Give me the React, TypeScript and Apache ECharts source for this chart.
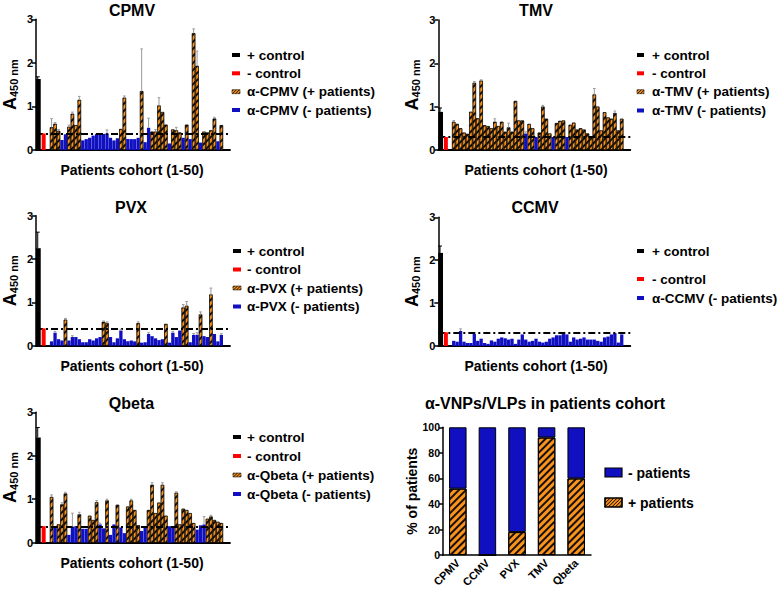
import React, { useEffect, useRef } from 'react';
import * as echarts from 'echarts';

const FONT = '"Liberation Sans", Arial, Helvetica, sans-serif';
const ORANGE = '#F7931E';
const BLUE = '#1010C0';
const RED = '#FF0000';
const BLACK = '#000000';

// ---------------- CPMV ----------------
const cpmvControls = [1.63, 0.38];
const cpmvControlErr = [1.68, null];
const cpmvValues = [0.52, 0.60, 0.44, 0.23, 0.36, 0.53, 0.83, 0.57, 1.15, 0.22, 0.25, 0.28, 0.33, 0.37, 0.37, 0.37, 0.38, 0.28, 0.22, 0.27, 0.48, 1.20, 0.25, 0.25, 0.25, 0.28, 1.35, 0.18, 0.51, 0.42, 0.42, 1.02, 0.87, 0.58, 0.15, 0.47, 0.45, 0.40, 0.28, 0.58, 0.25, 2.68, 1.93, 0.17, 0.42, 0.40, 0.45, 0.72, 0.20, 0.57];
const cpmvPositive = [1, 1, 1, 0, 0, 1, 1, 1, 1, 0, 0, 0, 0, 0, 0, 0, 0, 0, 0, 0, 1, 1, 0, 0, 0, 0, 1, 0, 0, 1, 1, 1, 1, 1, 0, 1, 1, 1, 0, 1, 0, 1, 1, 0, 1, 1, 1, 1, 0, 1];
const cpmvErrTop = [0.72, 0.63, 0.47, null, null, 0.57, 0.87, null, 1.23, null, null, null, null, null, null, null, 0.46, null, null, null, null, 1.24, null, null, null, null, 2.32, null, 0.73, null, 0.47, 1.20, null, null, null, null, 0.52, null, null, null, null, 2.78, 2.27, null, null, null, null, 0.75, null, null];
const cpmvCutoff = 0.37;

// ---------------- TMV ----------------
const tmvControls = [0.88, 0.30];
const tmvControlErr = [0.97, null];
const tmvValues = [0.65, 0.60, 0.50, 0.40, 0.37, 0.88, 1.55, 0.73, 1.60, 0.57, 0.55, 0.50, 0.65, 0.55, 0.65, 0.42, 0.52, 0.42, 1.13, 0.68, 0.68, 0.38, 0.60, 0.50, 0.30, 0.40, 1.00, 0.72, 0.38, 0.30, 0.62, 0.67, 0.68, 0.30, 0.58, 0.63, 0.47, 0.50, 0.47, 0.38, 0.30, 1.28, 1.00, 0.45, 0.87, 0.75, 0.72, 0.85, 0.45, 0.72];
const tmvPositive = [1, 1, 1, 1, 1, 1, 1, 1, 1, 1, 1, 1, 1, 1, 1, 1, 1, 1, 1, 1, 1, 0, 1, 1, 0, 1, 1, 1, 1, 0, 1, 1, 1, 0, 1, 1, 1, 1, 1, 1, 1, 1, 1, 1, 1, 1, 1, 1, 1, 1];
const tmvErrTop = [0.68, null, null, null, null, null, 1.58, null, 1.62, null, null, null, 0.72, null, null, null, 0.62, null, null, null, null, 0.42, null, null, null, null, 1.03, null, null, null, null, null, null, null, null, null, null, null, null, null, null, 1.42, null, null, null, null, null, 0.90, null, null];
const tmvCutoff = 0.30;

// ---------------- PVX ----------------
const pvxControls = [2.25, 0.40];
const pvxControlErr = [2.62, null];
const pvxValues = [0.10, 0.30, 0.15, 0.12, 0.60, 0.12, 0.20, 0.20, 0.15, 0.08, 0.08, 0.15, 0.12, 0.17, 0.20, 0.55, 0.52, 0.20, 0.08, 0.17, 0.35, 0.15, 0.10, 0.12, 0.10, 0.52, 0.07, 0.08, 0.27, 0.22, 0.17, 0.13, 0.15, 0.50, 0.07, 0.30, 0.20, 0.35, 0.88, 0.92, 0.08, 0.25, 0.25, 0.72, 0.22, 0.20, 1.18, 0.27, 0.10, 0.25];
const pvxPositive = [0, 0, 0, 0, 1, 0, 0, 0, 0, 0, 0, 0, 0, 0, 0, 1, 1, 0, 0, 0, 0, 0, 0, 0, 0, 1, 0, 0, 0, 0, 0, 0, 0, 1, 0, 0, 0, 0, 1, 1, 0, 0, 0, 1, 0, 0, 1, 0, 0, 0];
const pvxErrTop = [null, 0.33, null, null, 0.63, null, 0.23, null, null, null, null, null, null, null, null, 0.57, 0.55, null, null, null, 0.38, null, null, null, null, 0.55, null, null, 0.30, null, null, null, null, null, null, 0.33, null, null, 0.95, 1.02, null, 0.28, 0.30, 0.78, null, null, 1.33, null, null, 0.28];
const pvxCutoff = 0.38;

// ---------------- CCMV ----------------
const ccmvControls = [2.17, 0.32];
const ccmvControlErr = [2.33, null];
const ccmvValues = [0.12, 0.10, 0.35, 0.10, 0.07, 0.07, 0.28, 0.12, 0.17, 0.07, 0.05, 0.13, 0.10, 0.17, 0.20, 0.18, 0.15, 0.17, 0.05, 0.15, 0.27, 0.15, 0.10, 0.12, 0.17, 0.10, 0.08, 0.10, 0.17, 0.20, 0.25, 0.25, 0.30, 0.27, 0.10, 0.20, 0.15, 0.17, 0.20, 0.15, 0.15, 0.15, 0.12, 0.10, 0.20, 0.22, 0.27, 0.30, 0.08, 0.27];
const ccmvPositive = [0, 0, 0, 0, 0, 0, 0, 0, 0, 0, 0, 0, 0, 0, 0, 0, 0, 0, 0, 0, 0, 0, 0, 0, 0, 0, 0, 0, 0, 0, 0, 0, 0, 0, 0, 0, 0, 0, 0, 0, 0, 0, 0, 0, 0, 0, 0, 0, 0, 0];
const ccmvErrTop = [null, null, 0.40, null, null, null, null, null, null, null, null, null, null, null, null, null, null, null, null, null, null, null, null, null, null, null, null, null, null, null, null, null, null, null, null, null, null, null, null, null, null, null, null, null, null, null, null, null, null, null];
const ccmvCutoff = 0.32;

// ---------------- Qbeta ----------------
const qbetaControls = [2.42, 0.38];
const qbetaControlErr = [2.65, null];
const qbetaValues = [1.05, 0.38, 0.42, 0.88, 1.13, 0.18, 0.37, 0.38, 0.65, 0.32, 0.32, 0.62, 0.52, 0.93, 0.42, 0.33, 0.97, 0.18, 0.42, 0.87, 0.35, 0.22, 0.83, 0.97, 0.75, 0.40, 0.27, 0.37, 0.75, 1.33, 0.68, 0.92, 1.33, 0.62, 0.38, 0.35, 1.15, 0.42, 0.78, 0.75, 0.68, 0.45, 0.30, 0.40, 0.42, 0.55, 0.60, 0.52, 0.48, 0.45];
const qbetaPositive = [1, 0, 1, 1, 1, 0, 0, 0, 1, 0, 0, 1, 1, 1, 0, 0, 1, 0, 0, 1, 0, 0, 1, 1, 1, 1, 0, 0, 1, 1, 1, 1, 1, 1, 0, 0, 1, 1, 1, 1, 1, 1, 0, 0, 0, 1, 1, 1, 1, 1];
const qbetaErrTop = [1.10, null, null, 0.92, 1.16, null, 0.68, null, 0.70, null, null, null, null, 0.97, 0.45, null, 1.00, null, null, null, null, null, null, 1.00, null, null, null, null, null, 1.38, null, null, 1.38, null, null, null, 1.17, null, null, null, null, null, null, null, 0.60, null, 0.63, null, null, null];
const qbetaCutoff = 0.37;

// ---------------- Summary ----------------
const summaryCategories = ['CPMV', 'CCMV', 'PVX', 'TMV', 'Qbeta'];
const summaryPositive = [52, 0, 18, 92, 60];
const summaryNegative = [48, 100, 82, 8, 40];

const panelYTicks = [0, 1, 2, 3];

const panels = [
  { name: 'CPMV', controls: cpmvControls, controlErr: cpmvControlErr, values: cpmvValues, positive: cpmvPositive, errTop: cpmvErrTop, cutoff: cpmvCutoff, showPos: true },
  { name: 'TMV', controls: tmvControls, controlErr: tmvControlErr, values: tmvValues, positive: tmvPositive, errTop: tmvErrTop, cutoff: tmvCutoff, showPos: true },
  { name: 'PVX', controls: pvxControls, controlErr: pvxControlErr, values: pvxValues, positive: pvxPositive, errTop: pvxErrTop, cutoff: pvxCutoff, showPos: true },
  { name: 'CCMV', controls: ccmvControls, controlErr: ccmvControlErr, values: ccmvValues, positive: ccmvPositive, errTop: ccmvErrTop, cutoff: ccmvCutoff, showPos: false },
  { name: 'Qbeta', controls: qbetaControls, controlErr: qbetaControlErr, values: qbetaValues, positive: qbetaPositive, errTop: qbetaErrTop, cutoff: qbetaCutoff, showPos: true },
];

const layouts = [
  { left: 35, top: 19.3, width: 195, height: 130.7, titleX: 132, titleY: 10, xlabelX: 132, xlabelY: 170, markX: 232, textX: 247, legendY: [55, 73.3, 91.7, 110], markW: 8 },
  { left: 438.3, top: 20, width: 192, height: 130, titleX: 536, titleY: 10, xlabelX: 536, xlabelY: 170, markX: 637, textX: 652, legendY: [55, 73.3, 91.7, 110.5], markW: 7 },
  { left: 35, top: 215.7, width: 195, height: 130, titleX: 131, titleY: 207, xlabelX: 132, xlabelY: 366, markX: 233, textX: 247, legendY: [251, 269.5, 288, 306.5], markW: 8 },
  { left: 438.3, top: 217.3, width: 192, height: 128.7, titleX: 535, titleY: 207, xlabelX: 536, xlabelY: 366, markX: 637, textX: 652, legendY: [251, 279, 298], markW: 7 },
  { left: 35, top: 412.3, width: 195, height: 130.4, titleX: 131.5, titleY: 403, xlabelX: 132, xlabelY: 563, markX: 233, textX: 247, legendY: [437, 456, 475, 494], markW: 8 },
];

const SLOTS = 56;
const FIRST_PATIENT_SLOT = 4;
const slotCats = Array.from({ length: SLOTS }, (_, i) => 's' + i);

const HATCH: any = {
  symbol: 'rect',
  symbolSize: 1,
  dashArrayX: [1, 0],
  dashArrayY: [1.3, 3],
  rotation: -Math.PI / 4,
  color: 'rgba(0,0,0,0.9)',
};

function hatchLines(x0: number, y0: number, w: number, h: number, step: number, lw: number) {
  const out: any[] = [];
  for (let c = step / 2; c < w + h; c += step) {
    const xs = Math.max(0, c - h);
    const xe = Math.min(w, c);
    out.push({
      type: 'line',
      shape: { x1: x0 + xs, y1: y0 + (c - xs), x2: x0 + xe, y2: y0 + (c - xe) },
      style: { stroke: '#000', lineWidth: lw },
      silent: true,
    });
  }
  return out;
}

function txt(text: string, x: number, y: number, size: number, align = 'center') {
  return {
    type: 'text',
    x,
    y,
    silent: true,
    style: { text, fill: '#000', fontSize: size, fontWeight: 'bold', fontFamily: FONT, align, verticalAlign: 'middle' },
  };
}

function buildOption() {
  const grid: any[] = [];
  const xAxis: any[] = [];
  const yAxis: any[] = [];
  const series: any[] = [];
  const graphic: any[] = [];

  panels.forEach((p, i) => {
    const L = layouts[i];
    grid.push({ left: L.left, top: L.top, width: L.width, height: L.height });
    const mainX = xAxis.length;
    xAxis.push({
      type: 'category', gridIndex: i, data: slotCats, boundaryGap: true,
      axisLine: { show: true, lineStyle: { color: BLACK, width: 1.8 } },
      axisTick: { show: false }, axisLabel: { show: false }, splitLine: { show: false },
    });
    const ctrlX = xAxis.length;
    xAxis.push({ type: 'category', gridIndex: i, data: slotCats, boundaryGap: true, show: false });
    yAxis.push({
      type: 'value', gridIndex: i, min: panelYTicks[0], max: panelYTicks[panelYTicks.length - 1], interval: 1,
      name: '{a|A}{b|450 nm}', nameLocation: 'middle', nameRotate: 90, nameGap: 17,
      nameTextStyle: {
        color: BLACK,
        rich: {
          a: { fontSize: 18, fontWeight: 'bold', fontFamily: FONT, color: BLACK },
          b: { fontSize: 11, fontWeight: 'bold', fontFamily: FONT, color: BLACK, verticalAlign: 'bottom', padding: [6, 0, 0, 0] },
        },
      },
      axisLine: { show: true, lineStyle: { color: BLACK, width: 1.5 } },
      axisTick: { show: true, length: 4, lineStyle: { color: BLACK, width: 1.5 } },
      axisLabel: { margin: 3, color: BLACK, fontWeight: 'bold', fontSize: 11, fontFamily: FONT },
      splitLine: { show: false },
    });

    const orange: any[] = slotCats.map(() => '-');
    const blue: any[] = slotCats.map(() => '-');
    const errData: any[] = [];
    p.values.forEach((v, k) => {
      const s = FIRST_PATIENT_SLOT + k;
      if (p.positive[k]) orange[s] = v; else blue[s] = v;
      const t = p.errTop[k];
      if (t != null && t > v) errData.push([s, v, t, 0]);
    });
    const black: any[] = slotCats.map(() => '-');
    const red: any[] = slotCats.map(() => '-');
    black[0] = p.controls[0];
    red[2] = p.controls[1];
    if (p.controlErr[0] != null) errData.push([0, p.controls[0], p.controlErr[0], 1]);

    series.push({
      type: 'bar', name: 'α-' + p.name + ' (+ patients)', xAxisIndex: mainX, yAxisIndex: i,
      data: orange, barWidth: 3.3, barGap: '-100%',
      itemStyle: { color: ORANGE, borderColor: '#000', borderWidth: 0.5, decal: HATCH },
    });
    series.push({
      type: 'bar', name: 'α-' + p.name + ' (- patients)', xAxisIndex: mainX, yAxisIndex: i,
      data: blue, barWidth: 3.3, barGap: '-100%',
      itemStyle: { color: BLUE },
      markLine: {
        silent: true, symbol: ['none', 'none'], label: { show: false },
        lineStyle: { color: BLACK, width: 1.8, type: [7, 3, 2, 3] },
        data: [{ yAxis: p.cutoff }],
      },
    });
    series.push({
      type: 'bar', name: '- control', xAxisIndex: ctrlX, yAxisIndex: i,
      data: red, barWidth: 4, barGap: '-100%', z: 6, itemStyle: { color: RED },
    });
    series.push({
      type: 'bar', name: '+ control', xAxisIndex: ctrlX, yAxisIndex: i,
      data: black, barWidth: 6, barGap: '-100%', z: 6, itemStyle: { color: BLACK },
    });
    series.push({
      type: 'custom', xAxisIndex: mainX, yAxisIndex: i, z: 7, silent: true,
      encode: { x: 0, y: 1 },
      data: errData,
      renderItem: (params: any, api: any) => {
        const x = api.value(0);
        const v = api.value(1);
        const t = api.value(2);
        const c = api.value(3);
        const p0 = api.coord([x, v]);
        const p1 = api.coord([x, t]);
        const color = c ? '#000' : '#9a9a9a';
        const hw = c ? 2 : 1.3;
        return {
          type: 'group',
          children: [
            { type: 'line', shape: { x1: p0[0], y1: p0[1], x2: p1[0], y2: p1[1] }, style: { stroke: color, lineWidth: 1 } },
            { type: 'line', shape: { x1: p1[0] - hw, y1: p1[1], x2: p1[0] + hw, y2: p1[1] }, style: { stroke: color, lineWidth: 1 } },
          ],
        };
      },
    });

    graphic.push(txt(p.name, L.titleX, L.titleY, 16));
    graphic.push(txt('Patients cohort (1-50)', L.xlabelX, L.xlabelY, 14));

    const items: any[] = [
      { label: '+ control', color: BLACK, hatch: false },
      { label: '- control', color: RED, hatch: false },
    ];
    if (p.showPos) items.push({ label: 'α-' + p.name + ' (+ patients)', color: ORANGE, hatch: true });
    items.push({ label: 'α-' + p.name + ' (- patients)', color: BLUE, hatch: false });
    items.forEach((it, j) => {
      const y = L.legendY[j];
      graphic.push({
        type: 'rect', silent: true,
        shape: { x: L.markX, y: y - 2, width: L.markW, height: 4 },
        style: { fill: it.color, stroke: it.hatch ? '#000' : null, lineWidth: 0.5 },
      });
      if (it.hatch) hatchLines(L.markX, y - 2, L.markW, 4, 3, 0.9).forEach((g) => graphic.push(g));
      graphic.push(txt(it.label, L.textX, y, 13.5, 'left'));
    });
  });

  // Summary stacked chart
  const gi = grid.length;
  grid.push({ left: 443, top: 427.3, width: 148, height: 128.4 });
  const sx = xAxis.length;
  xAxis.push({
    type: 'category', gridIndex: gi, data: summaryCategories,
    axisLine: { show: true, lineStyle: { color: BLACK, width: 1.5 } },
    axisTick: { show: false },
    axisLabel: { rotate: 45, interval: 0, margin: 6, color: BLACK, fontWeight: 'bold', fontSize: 11, fontFamily: FONT },
  });
  const sy = yAxis.length;
  yAxis.push({
    type: 'value', gridIndex: gi, min: 0, max: 100, interval: 20,
    name: '% of patients', nameLocation: 'middle', nameRotate: 90, nameGap: 23,
    nameTextStyle: { color: BLACK, fontWeight: 'bold', fontSize: 14, fontFamily: FONT },
    axisLine: { show: true, lineStyle: { color: BLACK, width: 1.5 } },
    axisTick: { show: true, length: 4, lineStyle: { color: BLACK, width: 1.5 } },
    axisLabel: { margin: 3, color: BLACK, fontWeight: 'bold', fontSize: 10.5, fontFamily: FONT },
    splitLine: { show: false },
  });
  series.push({
    type: 'bar', name: '+ patients', xAxisIndex: sx, yAxisIndex: sy, stack: 'pct',
    data: summaryPositive, barWidth: 17.5,
    itemStyle: { color: ORANGE, borderColor: '#000', borderWidth: 1, decal: HATCH },
  });
  series.push({
    type: 'bar', name: '- patients', xAxisIndex: sx, yAxisIndex: sy, stack: 'pct',
    data: summaryNegative, barWidth: 17.5,
    itemStyle: { color: BLUE, borderColor: '#000', borderWidth: 1 },
  });
  graphic.push(txt('α-VNPs/VLPs in patients cohort', 545, 403, 16));
  graphic.push({ type: 'rect', silent: true, shape: { x: 605, y: 468, width: 17, height: 9 }, style: { fill: BLUE, stroke: '#000', lineWidth: 1.2 } });
  graphic.push(txt('- patients', 628, 472.5, 14, 'left'));
  graphic.push({ type: 'rect', silent: true, shape: { x: 605, y: 498, width: 17, height: 9 }, style: { fill: ORANGE, stroke: '#000', lineWidth: 1.2 } });
  hatchLines(605, 498, 17, 9, 3.5, 1).forEach((g) => graphic.push(g));
  graphic.push({ type: 'rect', silent: true, shape: { x: 605, y: 498, width: 17, height: 9 }, style: { fill: 'none', stroke: '#000', lineWidth: 1.2 } });
  graphic.push(txt('+ patients', 628, 502.5, 14, 'left'));

  return {
    animation: false,
    backgroundColor: '#fff',
    textStyle: { fontFamily: FONT },
    grid, xAxis, yAxis, series, graphic,
  };
}

export default function App() {
  const ref = useRef<HTMLDivElement>(null);
  useEffect(() => {
    if (!ref.current) return;
    const chart = echarts.init(ref.current, null, { renderer: 'svg' });
    chart.setOption(buildOption() as any);
    return () => chart.dispose();
  }, []);
  return <div ref={ref} style={{ position: 'fixed', left: 0, top: 0, width: 783, height: 590, background: '#fff' }} />;
}
